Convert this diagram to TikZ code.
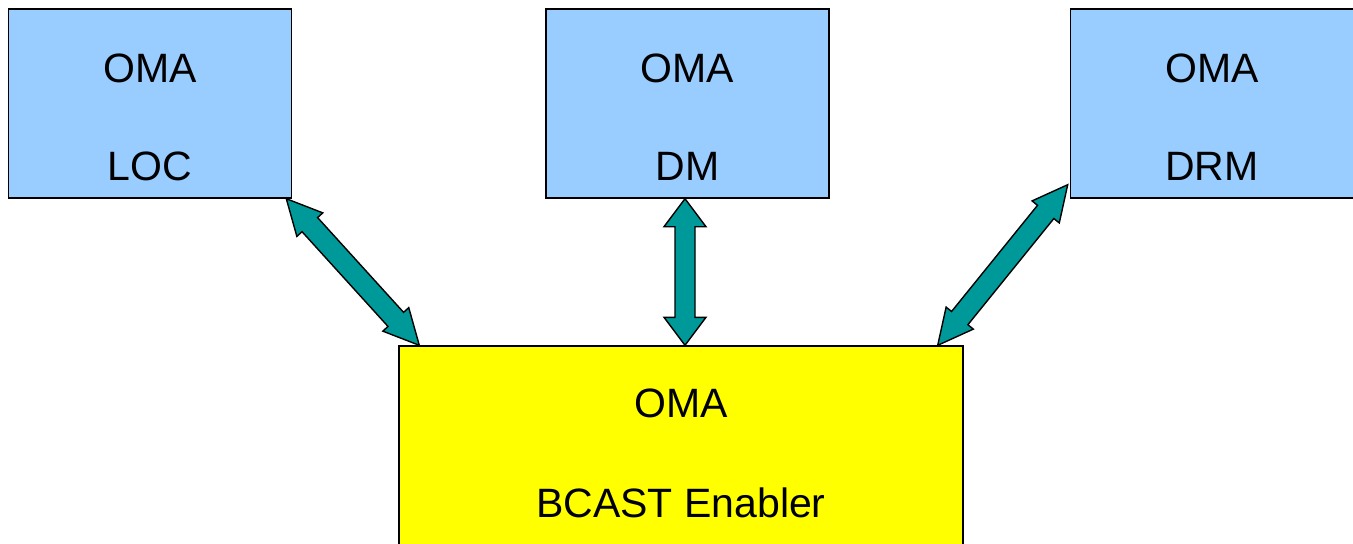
\documentclass[tikz,border=0pt]{standalone}
\usepackage{fontspec}
\setmainfont{Liberation Sans}
\usetikzlibrary{positioning,calc}

\definecolor{omablue}{HTML}{99CCFF}
\definecolor{omayellow}{HTML}{FFFF00}
\definecolor{omateal}{HTML}{009999}

% block arrow with a head at both ends: from, to, head half width, head length, shaft half width
\newcommand{\dblarrow}[5]{%
	\filldraw[link] (#1)
		-- ($(#1)!#4!(#2)!#3!90:(#2)$)
		-- ($(#1)!#4!(#2)!#5!90:(#2)$)
		-- ($(#2)!#4!(#1)!#5!-90:(#1)$)
		-- ($(#2)!#4!(#1)!#3!-90:(#1)$)
		-- (#2)
		-- ($(#2)!#4!(#1)!#3!90:(#1)$)
		-- ($(#2)!#4!(#1)!#5!90:(#1)$)
		-- ($(#1)!#4!(#2)!#5!-90:(#2)$)
		-- ($(#1)!#4!(#2)!#3!-90:(#2)$)
		-- cycle;}

\begin{document}
\begin{tikzpicture}[%
			x=0.5pt,
			y=-0.5pt,
			node distance=73.3pt,
			every node/.style={inner sep=0pt},
			enabler/.style={%
				draw,
				line width=0.7pt,
				font=\fontsize{20.5}{24.5}\selectfont,
				minimum width=141.5pt,
				minimum height=94.5pt,
				text height=76.5pt,
				text depth=0pt,
				fill=omablue
			},
			link/.style={%
				fill=omateal,
				draw=black,
				line width=0.7pt
			}
			]
			\useasboundingbox (0,0) rectangle (1353,543);
			\node[enabler, fill=omayellow, font=\fontsize{20.5}{25}\selectfont,
				minimum width=282pt, minimum height=120pt, text height=51pt]
				(bcast) at (681,466) {\begin{tabular}[b]{c}
				OMA\\
				\\
				BCAST Enabler
				\end{tabular}};
			\node[enabler] (dm) [above=of bcast, xshift=3.25pt] {\begin{tabular}[b]{c}
				OMA\\
				\\
				DM
				\end{tabular}};
			\node[enabler] (loc) [left=126.5pt of dm] {\begin{tabular}[b]{c}
				OMA\\
				\\
				LOC
				\end{tabular}};
			\node[enabler] (drm) [right=120pt of dm] {\begin{tabular}[b]{c}
				OMA\\
				\\
				DRM
				\end{tabular}};

			\coordinate (loc-a) at ($(loc.south east)+(-6,0)$);
			\coordinate (loc-b) at ($(bcast.north west)+(21,0)$);
			\coordinate (dm-a) at ($(dm.south)+(-2.5,0)$);
			\coordinate (dm-b) at ($(bcast.north)+(4,0)$);
			\coordinate (drm-a) at ($(drm.south west)+(-2,-14)$);
			\coordinate (drm-b) at ($(bcast.north east)+(-26,0)$);

			\dblarrow{loc-a}{loc-b}{8.75pt}{17.5pt}{5.25pt}
			\dblarrow{dm-a}{dm-b}{10.5pt}{14pt}{5pt}
			\dblarrow{drm-a}{drm-b}{8.75pt}{17.5pt}{5.25pt}
			\end{tikzpicture}
\end{document}
